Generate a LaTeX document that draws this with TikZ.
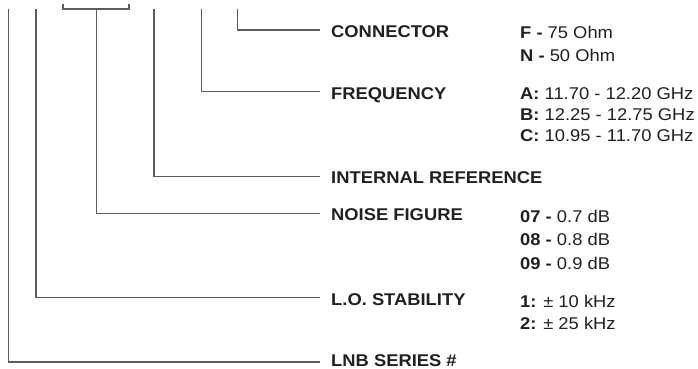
\documentclass[tikz,border=0pt]{standalone}
\usepackage{fontspec}
\setmainfont{Liberation Sans}[FakeStretch=1.08]
\definecolor{lineg}{RGB}{88,94,94}
\definecolor{txt}{RGB}{35,31,32}
\tikzset{
  conn/.style={draw=lineg, line width=1.4pt, line join=miter},
  lab/.style={anchor=west, inner sep=0pt, text height=14.6pt, text depth=0pt,
              font=\fontsize{17}{20}\selectfont\bfseries, text=txt},
  val/.style={anchor=base west, inner sep=0pt, font=\fontsize{17}{20}\selectfont, text=txt}
}
\begin{document}
\begin{tikzpicture}[x=1pt,y=-1pt]
\useasboundingbox (0,0) rectangle (698,369);
% labels
\node[lab] (lconn) at (331,30) {CONNECTOR};
\node[lab] (lfreq) at (331,91.7) {FREQUENCY};
\node[lab] (lint)  at (331,176.5) {INTERNAL REFERENCE};
\node[lab] (lnoise) at (331,213.3) {NOISE FIGURE};
\node[lab] (llo) at (331,297.7) {L.O. STABILITY};
\node[lab] (llnb) at (331,359.3) {LNB SERIES \#};
% values
\node[val] (vf) at (520,38) {\textbf{F -} 75 Ohm};
\node[val] (vn) at (520,62) {\textbf{N -} 50 Ohm};
\node[val] (va) at (520,99) {\textbf{A:} 11.70 - 12.20 GHz};
\node[val] (vb) at (520,120) {\textbf{B:} 12.25 - 12.75 GHz};
\node[val] (vc) at (520,141) {\textbf{C:} 10.95 - 11.70 GHz};
\node[val] (v07) at (520,222) {\textbf{07 -} 0.7 dB};
\node[val] (v08) at (520,245.5) {\textbf{08 -} 0.8 dB};
\node[val] (v09) at (520,269) {\textbf{09 -} 0.9 dB};
\node[val] (v1) at (520,307.3) {\textbf{1:} ± 10 kHz};
\node[val] (v2) at (520,329.3) {\textbf{2:} ± 25 kHz};
% tops of the leader lines
\coordinate (tlnb) at (8.5,9.5);
\coordinate (tlo) at (36,9.5);
\coordinate (bl) at (63,4);
\coordinate (br) at (129,4);
\coordinate (tnoise) at (96.5,9);
\coordinate (tint) at (154,9.5);
\coordinate (tfreq) at (201.7,9.5);
\coordinate (tconn) at (237.7,9.5);
% bracket
\draw[conn] (bl) |- (tnoise) -| (br);
% leaders
\draw[conn] (tconn) |- ([xshift=-11pt]lconn.west);
\draw[conn] (tfreq) |- ([xshift=-11pt]lfreq.west);
\draw[conn] (tint) |- ([xshift=-11pt]lint.west);
\draw[conn] (tnoise) |- ([xshift=-11pt]lnoise.west);
\draw[conn] (tlo) |- ([xshift=-11pt]llo.west);
\draw[conn] (tlnb) |- ([xshift=-11pt,yshift=-2.7pt]llnb.west);
\end{tikzpicture}
\end{document}
